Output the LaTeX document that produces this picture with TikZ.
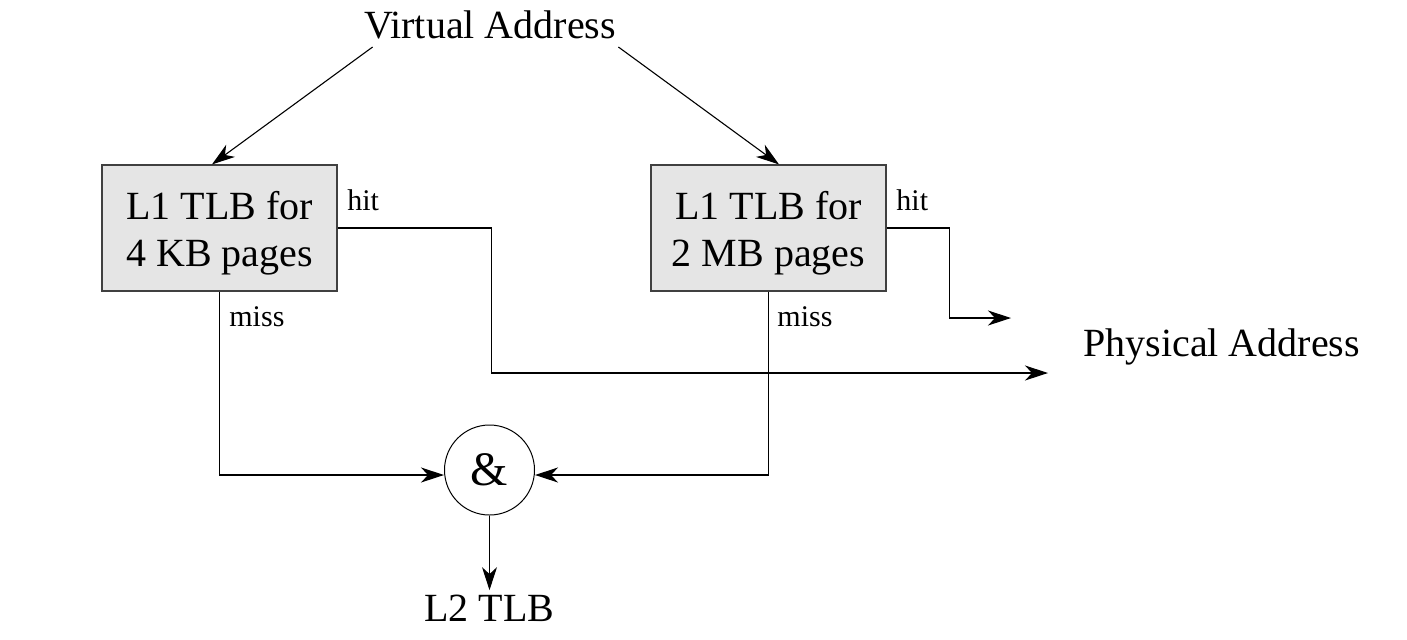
\documentclass[tikz,border=0pt]{standalone}
\usepackage{fontspec}
\setmainfont{Liberation Serif}
\usetikzlibrary{arrows.meta,calc}
\begin{document}
\begin{tikzpicture}[x=0.5pt,y=-0.5pt,
  big/.style={font=\fontsize{20}{23.5}\selectfont, inner sep=0pt},
  small/.style={font=\fontsize{15}{18}\selectfont, inner sep=0pt},
  tlb/.style={draw=black!75, fill=black!10, line width=0.6pt, minimum width=117.5pt, minimum height=63pt, inner sep=0pt},
  andnode/.style={draw, circle, line width=0.5pt, minimum size=45pt, inner sep=0pt, font=\fontsize{24}{28}\selectfont},
  conn/.style={line width=0.55pt, -{Stealth[length=11.5pt,width=7.5pt,inset=3.5pt]}},
  plain/.style={line width=0.55pt}]
\useasboundingbox (0,0) rectangle (1407,639);
% nodes
\node[big, anchor=base] (va) at (490,38) {Virtual Address};
\node[tlb] (box1) at (219.5,228) {};
\node[big, align=center] (t1) at (219.5,233) {L1 TLB for\\4 KB pages};
\node[tlb] (box2) at (768.5,228) {};
\node[big, align=center] (t2) at (768.5,233) {L1 TLB for\\2 MB pages};
\node[andnode] (and) at (489.5,470) {\&};
\node[big, anchor=base] (l2) at (489.5,621) {L2 TLB};
\node[big, anchor=base west] (pa) at (1083,356) {Physical Address};
\node[small, anchor=base west] (hit1) at (347,210) {hit};
\node[small, anchor=base west] (hit2) at (896,210) {hit};
\node[small, anchor=base west] (miss1) at (229,326) {miss};
\node[small, anchor=base west] (miss2) at (777,326) {miss};
\coordinate (h1end) at (1048,373);
\coordinate (h2end) at (1011,318);
% connectors
\draw[conn] ($(va.base west)+(9,9)$) -- ($(box1.north)+(-7.5,0)$);
\draw[conn] ($(va.base east)+(2,9)$) -- ($(box2.north)+(10.5,0)$);
\draw[conn] (box1.east) -- ++(154,0) |- (h1end);
\draw[conn] (box2.east) -- ++(63,0) |- (h2end);
\draw[conn] (box1.south) |- ($(and.west)+(0,5)$);
\draw[conn] (box2.south) |- ($(and.east)+(0,5)$);
\draw[conn] (and.south) -- ($(l2.north)+(0,-4)$);
\end{tikzpicture}
\end{document}
